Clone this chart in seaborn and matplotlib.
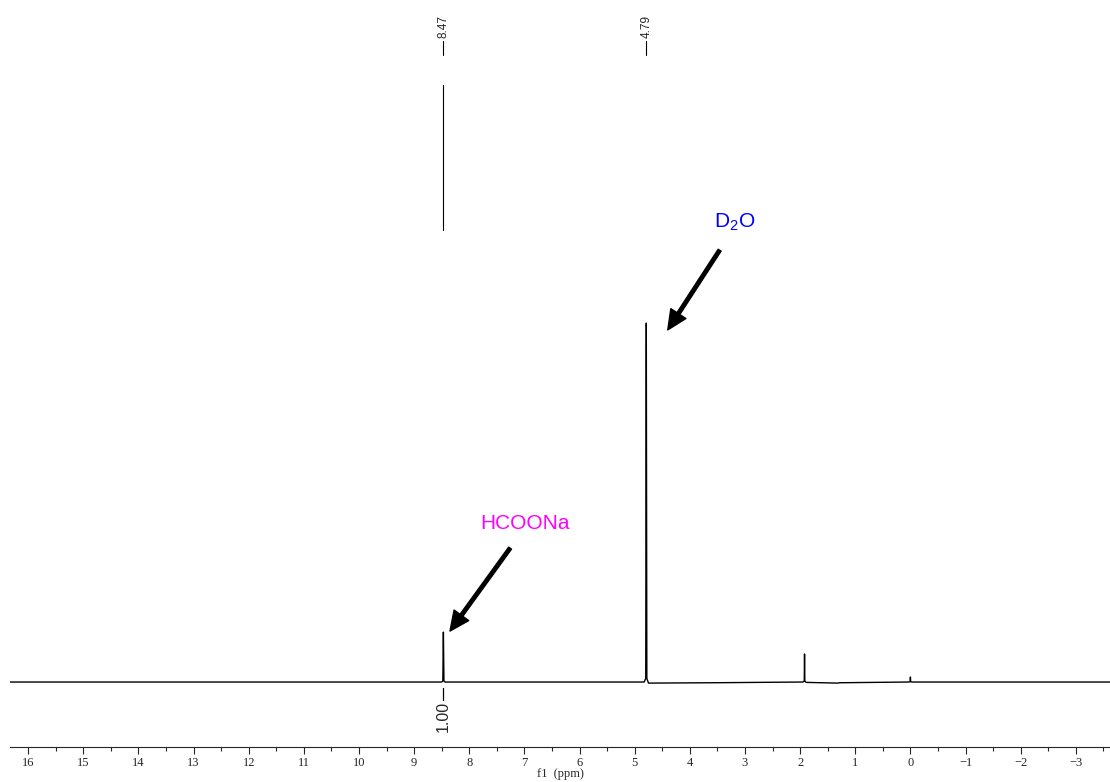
import matplotlib
matplotlib.use("Agg")
import matplotlib.pyplot as plt
import seaborn as sns
import pandas as pd

# tema
sns.set_theme(style="ticks")
plt.rcParams["font.family"] = ["Liberation Sans", "DejaVu Sans"]
plt.rcParams["mathtext.fontset"] = "custom"
plt.rcParams["mathtext.rm"] = "Liberation Sans"

# espectro 1H (vertices de la traza, ppm / intensidad relativa, D2O = 100)
shift_ppm = [16.33, 8.50, 8.48, 8.47, 8.46, 8.44,
             4.83, 4.80, 4.79, 4.78, 4.75,
             3.62, 3.58, 1.95, 1.925, 1.92, 1.915, 1.89,
             1.32, 1.28, 0.03, 0.005, 0.0, -0.005, -0.03, -3.62]
intensity = [0.0, 0.0, 0.3, 13.9, 0.3, 0.0,
             0.0, 1.0, 100.0, 1.0, -0.3,
             -0.2, -0.2, 0.0, 0.3, 7.8, 0.3, -0.1,
             -0.3, -0.2, 0.0, 0.1, 1.4, 0.1, 0.0, 0.0]

peak_labels = [8.47, 4.79]
integral_pos = [8.47]
integral_vals = ["1.00"]
xticks = list(range(16, -4, -1))

df = pd.DataFrame({"ppm": shift_ppm, "I": intensity})

fig = plt.figure(figsize=(11.1, 7.82), dpi=100)
ax = fig.add_axes([10 / 1110, 35 / 782, 1100 / 1110, 747 / 782])

sns.lineplot(data=df, x="ppm", y="I", sort=False, estimator=None,
             color="black", linewidth=1.0, ax=ax)

ax.set_xlim(16.33, -3.62)
ax.set_ylim(-18.1, 190.0)

# ejes estilo MestReNova
sns.despine(ax=ax, left=True)
ax.set_yticks([])
ax.set_ylabel("")
ax.set_xticks(xticks)
ax.set_xticklabels([str(t).replace("-", "\u2212") for t in xticks],
                   family="Liberation Serif", fontsize=9)
ax.set_xticks([t - 0.5 for t in xticks[:-1]] + [-3.5], minor=True)
ax.tick_params(axis="x", which="major", length=5, width=0.8, pad=2, direction="out")
ax.tick_params(axis="x", which="minor", length=3, width=0.8, direction="out")
ax.spines["bottom"].set_linewidth(0.8)
ax.set_xlabel("")
fig.text(560 / 1110, 1 - 774 / 782, "f1  (ppm)", family="Liberation Serif",
         fontsize=9, ha="center", va="center")

# etiquetas de picos
for p in peak_labels:
    ax.plot([p, p], [174.6, 178.6], color="black", lw=0.8)
    ax.text(p, 179.5, f"{p:.2f}", rotation=90, ha="center", va="bottom", fontsize=8.5)
ax.plot([8.47, 8.47], [125.9, 166.3], color="black", lw=0.8)

# integrales
for p, v in zip(integral_pos, integral_vals):
    ax.plot([p, p], [-1.7, -5.0], color="black", lw=0.9)
    ax.text(p, -5.3, v, rotation=90, ha="center", va="top", fontsize=11.5)

# anotaciones
arrow = dict(facecolor="black", edgecolor="black", width=2.5, headwidth=13, headlength=14)
ax.annotate("", xy=(4.40, 98.1), xytext=(3.46, 120.3), arrowprops=arrow)
ax.text(3.19, 128.1, "D$_2$O", color="blue", fontsize=15, ha="center", va="center")
ax.annotate("", xy=(8.35, 14.2), xytext=(7.26, 37.3), arrowprops=arrow)
ax.text(6.99, 44.3, "HCOONa", color="magenta", fontsize=15, ha="center", va="center")

plt.savefig("out.png", dpi=100)
